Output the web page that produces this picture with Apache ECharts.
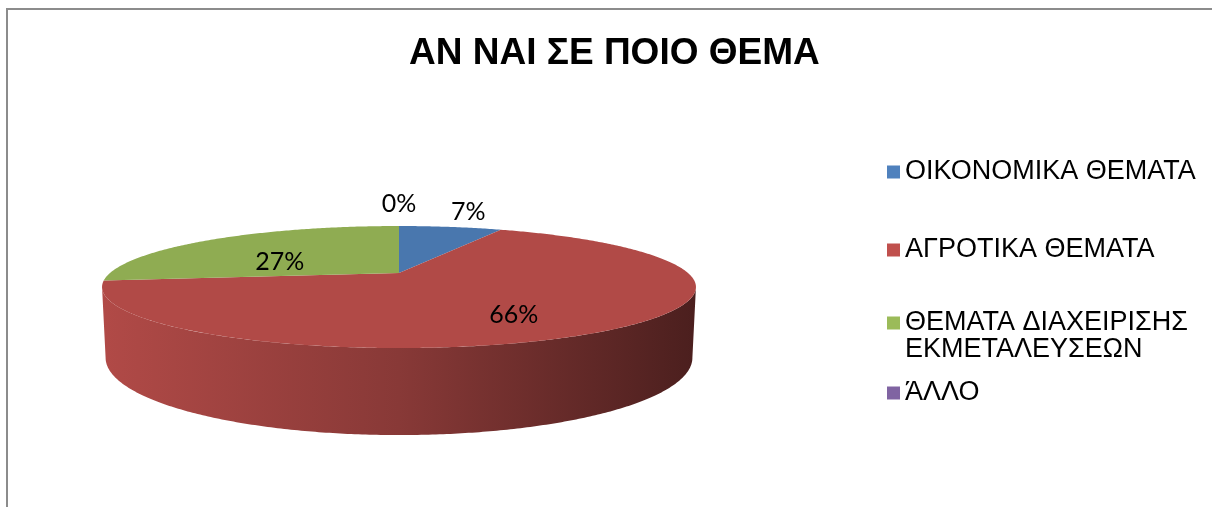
<!DOCTYPE html>
<html>
<head>
<meta charset="utf-8">
<title>ΑΝ ΝΑΙ ΣΕ ΠΟΙΟ ΘΕΜΑ</title>
<script src="https://cdn.jsdelivr.net/npm/echarts@6/dist/echarts.min.js"></script>
<style>
html, body { margin: 0; padding: 0; background: #fff; overflow: hidden; }
#frame { position: absolute; left: 6px; top: 8px; width: 1400px; height: 700px;
         border-left: 2px solid #8c8c8c; border-top: 2px solid #8c8c8c; }
#chart { position: absolute; left: 0; top: 0; width: 1212px; height: 507px; }
</style>
</head>
<body>
<div id="frame"></div>
<div id="chart"></div>
<script>
// data (percent)
var categories = ['ΟΙΚΟΝΟΜΙΚΑ ΘΕΜΑΤΑ', 'ΑΓΡΟΤΙΚΑ ΘΕΜΑΤΑ', 'ΘΕΜΑΤΑ ΔΙΑΧΕΙΡΙΣΗΣ ΕΚΜΕΤΑΛΕΥΣΕΩΝ', 'ΆΛΛΟ'];
var values = [7, 66, 27, 0];
var colors = ['#4f81bd', '#c0504d', '#9bbb59', '#8064a2'];

// 3d pie geometry (pixels)
var CX = 399, CY = 273;      // centre of the top face
var RX = 289, RY = 57.8;     // radii before perspective
var PERSP = 0.23;            // how much nearer points grow
var DEPTH = 67;              // height of the pie wall

var total = values.reduce(function (a, b) { return a + b; }, 0);

function shade(hex, k) {
    var n = parseInt(hex.slice(1), 16);
    var r = Math.round(((n >> 16) & 255) * k);
    var g = Math.round(((n >> 8) & 255) * k);
    var b = Math.round((n & 255) * k);
    return 'rgb(' + r + ',' + g + ',' + b + ')';
}

// angle measured clockwise from 12 o'clock, f = fraction of radius, level 0 top / 1 bottom
function project(theta, f, level) {
    var x = Math.sin(theta) * f, z = -Math.cos(theta) * f;
    var s = 1 / (1 - PERSP * z);
    return [CX + RX * x * s * (1 - 0.012 * level), CY + (RY * z + DEPTH * level) * s];
}

// the wall shows between the two points where the outline is widest
var WALL_FROM = Math.acos(-PERSP), WALL_TO = Math.PI * 2 - WALL_FROM;

function renderSlice(params, api) {
    var i = params.seriesIndex;
    var v = api.value(0);
    var before = 0;
    for (var k = 0; k < i; k++) before += values[k];
    var a0 = before / total * Math.PI * 2;
    var a1 = (before + v) / total * Math.PI * 2;
    var col = colors[i];
    var children = [];
    var j, n;

    if (a1 > a0) {
        var s0 = Math.max(a0, WALL_FROM), s1 = Math.min(a1, WALL_TO);
        if (s1 > s0) {
            n = Math.ceil((s1 - s0) / 0.01);
            var up = [], down = [];
            for (j = 0; j <= n; j++) {
                var t = s0 + (s1 - s0) * j / n;
                up.push(project(t, 1, 0));
                down.unshift(project(t, 1, 1));
            }
            var l = project(WALL_TO, 1, 0)[0], r = project(WALL_FROM, 1, 0)[0];
            children.push({
                type: 'polygon',
                z2: 1,
                shape: { points: up.concat(down) },
                style: {
                    fill: new echarts.graphic.LinearGradient(l, 0, r, 0, [
                        { offset: 0, color: shade(col, 0.92) },
                        { offset: 0.5, color: shade(col, 0.71) },
                        { offset: 1, color: shade(col, 0.39) }
                    ], true)
                }
            });
        }
        // top face
        n = Math.max(2, Math.ceil((a1 - a0) / 0.01));
        var pts = [project(0, 0, 0)];
        for (j = 0; j <= n; j++) pts.push(project(a0 + (a1 - a0) * j / n, 1, 0));
        children.push({
            type: 'polygon',
            z2: 10,
            shape: { points: pts },
            style: { fill: shade(col, 0.92) }
        });
    }

    // data label
    var mid = (a0 + a1) / 2;
    var pos;
    if (v / total < 0.1) {
        var e = project(mid, 1, 0);
        var dx = Math.sin(mid) * RX, dy = -Math.cos(mid) * RY;
        var len = Math.sqrt(dx * dx + dy * dy) || 1;
        pos = [e[0] + dx / len * 24, e[1] + dy / len * 22];
    } else {
        pos = project(mid, 0.6, 0);
        pos[1] += 10;
    }
    children.push({
        type: 'text',
        z2: 20,
        x: pos[0],
        y: pos[1],
        style: {
            text: Math.round(v / total * 100) + '%',
            fill: '#000',
            font: '25px Lato',
            align: 'center',
            verticalAlign: 'middle'
        }
    });

    return { type: 'group', children: children };
}

// legend rows (text centre of each row, px)
var legendRows = [172, 250, 323, 393];

var legends = categories.map(function (name, i) {
    var twoLines = name.length > 25;
    return {
        data: [name],
        orient: 'vertical',
        left: 887,
        // a long name wraps; a blank first line keeps the box beside its first line
        top: twoLines ? legendRows[i] - 40.5 : legendRows[i] - 14,
        padding: 0,
        itemWidth: 13,
        itemHeight: 13,
        icon: 'rect',
        formatter: twoLines ? function (s) { return '\n' + s.replace(/ (\S+)$/, '\n$1'); } : '{name}',
        textStyle: {
            fontFamily: 'Liberation Sans',
            fontSize: 27,
            color: '#000',
            lineHeight: twoLines ? 27 : 28
        }
    };
});

var myChart = echarts.init(document.getElementById('chart'));
var option = {
    animation: false,
    color: colors,
    title: {
        text: 'ΑΝ ΝΑΙ ΣΕ ΠΟΙΟ ΘΕΜΑ',
        left: 409,
        top: 35,
        padding: 0,
        textStyle: {
            fontFamily: 'Liberation Sans',
            fontWeight: 'bold',
            fontSize: 37,
            color: '#000'
        }
    },
    legend: legends,
    series: categories.map(function (name, i) {
        return {
            name: name,
            type: 'custom',
            coordinateSystem: 'none',
            renderItem: renderSlice,
            data: [[values[i]]]
        };
    })
};

myChart.setOption(option);
</script>
</body>
</html>
